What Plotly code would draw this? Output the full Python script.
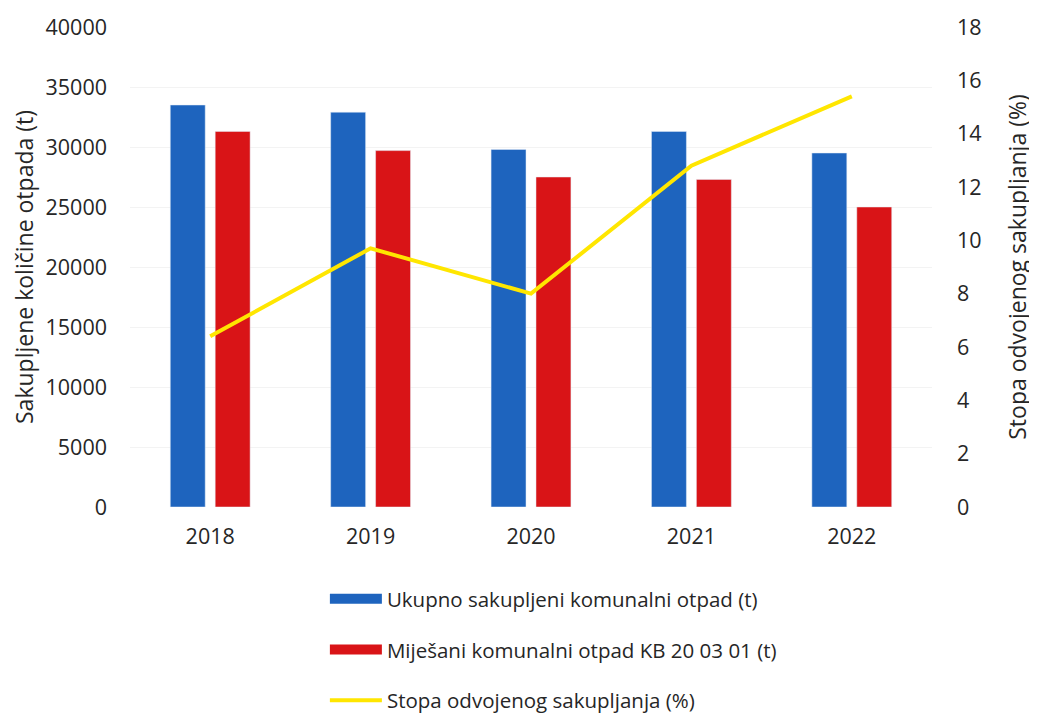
import plotly.graph_objects as go

years = ['2018', '2019', '2020', '2021', '2022']
ukupno = [33500, 32900, 29800, 31300, 29500]
mijesani = [31300, 29700, 27500, 27300, 25000]
stopa = [6.4, 9.7, 8.0, 12.8, 15.4]

blue = '#1E64BE'
red = '#D91417'
yellow = '#FFE600'
font_dict = dict(family='Open Sans', size=20, color='#262626')
tick_font = dict(family='Open Sans', size=21.5, color='#262626')
title_font = dict(family='Open Sans', size=23, color='#262626')
legend_font = dict(family='Open Sans', size=20.5, color='#262626')

fig = go.Figure()
fig.add_trace(go.Bar(x=years, y=ukupno, marker_color=blue, showlegend=False))
fig.add_trace(go.Bar(x=years, y=mijesani, marker_color=red, showlegend=False))
fig.add_trace(go.Scatter(x=years, y=stopa, mode='lines', yaxis='y2',
                         line=dict(color=yellow, width=4), showlegend=False))

# legend entries (wide swatches like the original)
fig.add_trace(go.Scatter(x=[None], y=[None], mode='lines', name='Ukupno sakupljeni komunalni otpad (t)',
                         line=dict(color=blue, width=11), legendgroup='a'))
fig.add_trace(go.Scatter(x=[None], y=[None], mode='lines', name='Miješani komunalni otpad KB 20 03 01 (t)',
                         line=dict(color=red, width=11), legendgroup='b'))
fig.add_trace(go.Scatter(x=[None], y=[None], mode='lines', name='Stopa odvojenog sakupljanja (%)',
                         line=dict(color=yellow, width=4), legendgroup='c'))

# page body has an 8px margin, so the figure is a bit smaller than the window
fig.update_layout(
    width=1029, height=705,
    font=font_dict,
    plot_bgcolor='white',
    paper_bgcolor='white',
    barmode='group',
    bargap=0.44,
    bargroupgap=0.222,
    margin=dict(l=122, r=105, t=19, b=206, autoexpand=False),
    legend=dict(x=0.243, y=0.19, xanchor='left', yanchor='top', yref='container',
                traceorder='grouped', tracegroupgap=21, itemwidth=52,
                font=legend_font, bgcolor='rgba(0,0,0,0)'),
    xaxis=dict(showline=False, showgrid=False, ticks='', tickfont=tick_font,
               ticklabelstandoff=14),
    yaxis=dict(title=dict(text='Sakupljene količine otpada (t)', font=title_font, standoff=14),
               range=[0, 40000], dtick=5000, tickformat='d', showgrid=True, gridcolor='#f3f3f3',
               zeroline=False, showline=False, ticks='', tickfont=tick_font,
               ticklabelstandoff=22, automargin=False),
    yaxis2=dict(title=dict(text='Stopa odvojenog sakupljanja (%)', font=title_font, standoff=29),
                range=[0, 18], dtick=2, overlaying='y', side='right', showgrid=False,
                zeroline=False, showline=False, ticks='', tickfont=tick_font,
                ticklabelstandoff=24, automargin=False),
)

fig.write_html('out.html')
